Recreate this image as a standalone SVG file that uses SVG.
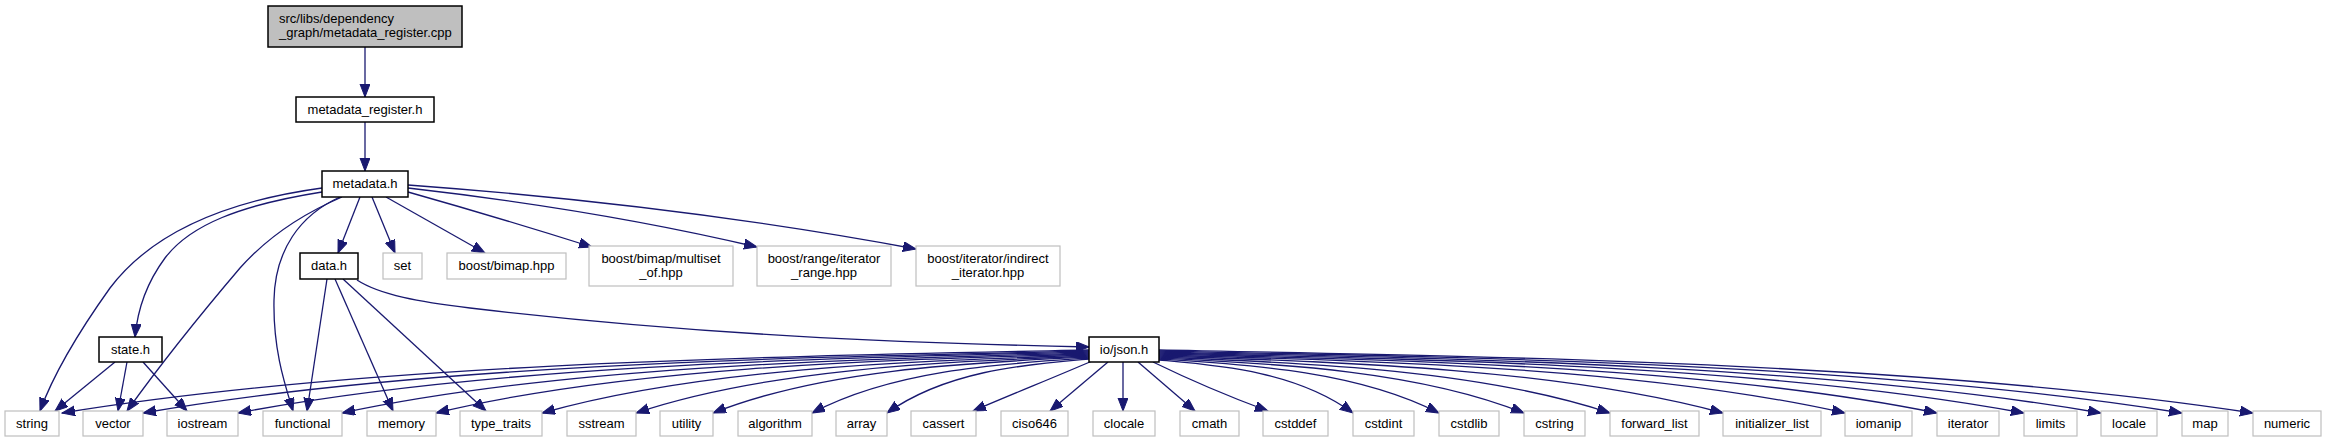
<svg xmlns="http://www.w3.org/2000/svg" width="2325" height="443" viewBox="0 0 2325 443">
<style>
text{font-family:"Liberation Sans",Arial,sans-serif;font-size:13px;fill:#000;text-anchor:middle}
.n rect{fill:#fff;stroke:#000;stroke-width:1.5}
.g rect{fill:#fff;stroke:#bfbfbf;stroke-width:1.2}
.r rect{fill:#bfbfbf;stroke:#000;stroke-width:1.5}
#edges path{fill:none;stroke:#191970;stroke-width:1.3;marker-end:url(#ah)}
</style>
<defs>
<marker id="ah" markerUnits="userSpaceOnUse" markerWidth="14" markerHeight="11" refX="13" refY="5" orient="auto" viewBox="0 0 14 11">
<path d="M0,0 L13,5 L0,10 z" fill="#191970" stroke="#191970" stroke-width="1"/>
</marker>
</defs>
<rect width="2325" height="443" fill="#fff"/>
<g id="edges">
<path d="M365,47 L365,97"/>
<path d="M365,122 L365,171"/>
<path d="M322,188 C220,202 150,235 110,288 C80,330 55,370 40,411"/>
<path d="M322,192 C240,205 190,225 165,258 C145,285 137,315 135,337"/>
<path d="M342,197 C300,215 265,240 240,268 C200,315 160,365 127,411"/>
<path d="M340,197 C300,215 275,250 274,300 C273,350 285,385 293,411"/>
<path d="M360,197 L338,253"/>
<path d="M372,197 L395,253"/>
<path d="M386,197 L485,253"/>
<path d="M408,192 Q500,218 592,247"/>
<path d="M408,188 Q600,210 757,247"/>
<path d="M408,185 Q680,205 916,249"/>
<path d="M327,279 L307,411"/>
<path d="M335,279 L393,411"/>
<path d="M343,279 L486,411"/>
<path d="M357,280 C380,295 420,302 470,308 C700,335 900,343 1089,347"/>
<path d="M115,362 L55,411"/>
<path d="M127,362 L118,411"/>
<path d="M143,362 L187,411"/>
<path d="M1089,350 C781,356.3 370,362.6 62,413"/>
<path d="M1089,351 C805,357.2 427,363.4 143,413"/>
<path d="M1089,352 C834,358.1 493,364.2 238,413"/>
<path d="M1089,353 C865,359 566,365 342,413"/>
<path d="M1089,354 C893,359.9 632,365.8 436,413"/>
<path d="M1089,355 C925,360.8 706,366.6 542,413"/>
<path d="M1089,356 C953,361.7 772,367.4 636,413"/>
<path d="M1089,357 C976,362.6 826,368.2 713,413"/>
<path d="M1089,358 C1006,363.5 895,369 812,413"/>
<path d="M1089,359 C1028,364.4 948,369.8 887,413"/>
<path d="M1092,361 C1060,375 1010,395 973,411"/>
<path d="M1108,362 L1050,411"/>
<path d="M1123,362 L1123,411"/>
<path d="M1138,362 L1195,411"/>
<path d="M1153,362 C1190,380 1230,397 1268,411"/>
<path d="M1159,360 C1217,365.3 1295,370.6 1353,413"/>
<path d="M1159,359 C1243,364.4 1355,369.8 1439,413"/>
<path d="M1159,358 C1269,363.5 1414,369 1524,413"/>
<path d="M1159,357 C1294,362.6 1475,368.2 1610,413"/>
<path d="M1159,356 C1328,361.7 1554,367.4 1723,413"/>
<path d="M1159,355 C1365,360.8 1639,366.6 1845,413"/>
<path d="M1159,354 C1392,359.9 1704,365.8 1937,413"/>
<path d="M1159,353 C1419,359 1765,365 2024,413"/>
<path d="M1159,352 C1442,358.1 1818,364.2 2101,413"/>
<path d="M1159,351 C1466,357.2 1875,363.4 2182,413"/>
<path d="M1159,350 C1487,356.3 1925,362.6 2253,413"/>
</g>
<g id="node_root" class="r"><rect x="268" y="6" width="194" height="41"/><text x="279" y="23" style="text-anchor:start">src/libs/dependency</text><text x="279" y="37" style="text-anchor:start">_graph/metadata_register.cpp</text></g>
<g id="node_metadata_register" class="n"><rect x="296" y="97" width="138" height="25"/><text x="365" y="114">metadata_register.h</text></g>
<g id="node_metadata" class="n"><rect x="322" y="171" width="86" height="26"/><text x="365" y="188">metadata.h</text></g>
<g id="node_data" class="n"><rect x="300" y="253" width="58" height="26"/><text x="329" y="270">data.h</text></g>
<g id="node_set" class="g"><rect x="383" y="253" width="39" height="26"/><text x="402.5" y="270">set</text></g>
<g id="node_bimap" class="g"><rect x="447" y="253" width="119" height="26"/><text x="506.5" y="270">boost/bimap.hpp</text></g>
<g id="node_multiset" class="g"><rect x="589" y="246" width="144" height="40"/><text x="661" y="263">boost/bimap/multiset</text><text x="661" y="277">_of.hpp</text></g>
<g id="node_range" class="g"><rect x="757" y="246" width="134" height="40"/><text x="824" y="263">boost/range/iterator</text><text x="824" y="277">_range.hpp</text></g>
<g id="node_indirect" class="g"><rect x="916" y="246" width="144" height="40"/><text x="988" y="263">boost/iterator/indirect</text><text x="988" y="277">_iterator.hpp</text></g>
<g id="node_state" class="n"><rect x="99" y="337" width="63" height="25"/><text x="130.5" y="354">state.h</text></g>
<g id="node_json" class="n"><rect x="1089" y="337" width="70" height="25"/><text x="1124" y="354">io/json.h</text></g>
<g id="node_string" class="g"><rect x="5" y="411" width="54" height="25"/><text x="32" y="428">string</text></g>
<g id="node_vector" class="g"><rect x="83" y="411" width="60" height="25"/><text x="113" y="428">vector</text></g>
<g id="node_iostream" class="g"><rect x="167" y="411" width="71" height="25"/><text x="202.5" y="428">iostream</text></g>
<g id="node_functional" class="g"><rect x="263" y="411" width="79" height="25"/><text x="302.5" y="428">functional</text></g>
<g id="node_memory" class="g"><rect x="367" y="411" width="69" height="25"/><text x="401.5" y="428">memory</text></g>
<g id="node_type_traits" class="g"><rect x="460" y="411" width="82" height="25"/><text x="501" y="428">type_traits</text></g>
<g id="node_sstream" class="g"><rect x="567" y="411" width="69" height="25"/><text x="601.5" y="428">sstream</text></g>
<g id="node_utility" class="g"><rect x="660" y="411" width="53" height="25"/><text x="686.5" y="428">utility</text></g>
<g id="node_algorithm" class="g"><rect x="738" y="411" width="74" height="25"/><text x="775" y="428">algorithm</text></g>
<g id="node_array" class="g"><rect x="836" y="411" width="51" height="25"/><text x="861.5" y="428">array</text></g>
<g id="node_cassert" class="g"><rect x="911" y="411" width="65" height="25"/><text x="943.5" y="428">cassert</text></g>
<g id="node_ciso646" class="g"><rect x="1001" y="411" width="67" height="25"/><text x="1034.5" y="428">ciso646</text></g>
<g id="node_clocale" class="g"><rect x="1093" y="411" width="62" height="25"/><text x="1124" y="428">clocale</text></g>
<g id="node_cmath" class="g"><rect x="1180" y="411" width="59" height="25"/><text x="1209.5" y="428">cmath</text></g>
<g id="node_cstddef" class="g"><rect x="1263" y="411" width="65" height="25"/><text x="1295.5" y="428">cstddef</text></g>
<g id="node_cstdint" class="g"><rect x="1353" y="411" width="61" height="25"/><text x="1383.5" y="428">cstdint</text></g>
<g id="node_cstdlib" class="g"><rect x="1439" y="411" width="60" height="25"/><text x="1469" y="428">cstdlib</text></g>
<g id="node_cstring" class="g"><rect x="1524" y="411" width="61" height="25"/><text x="1554.5" y="428">cstring</text></g>
<g id="node_forward_list" class="g"><rect x="1610" y="411" width="89" height="25"/><text x="1654.5" y="428">forward_list</text></g>
<g id="node_initializer_list" class="g"><rect x="1723" y="411" width="98" height="25"/><text x="1772" y="428">initializer_list</text></g>
<g id="node_iomanip" class="g"><rect x="1845" y="411" width="67" height="25"/><text x="1878.5" y="428">iomanip</text></g>
<g id="node_iterator" class="g"><rect x="1937" y="411" width="62" height="25"/><text x="1968" y="428">iterator</text></g>
<g id="node_limits" class="g"><rect x="2024" y="411" width="53" height="25"/><text x="2050.5" y="428">limits</text></g>
<g id="node_locale" class="g"><rect x="2101" y="411" width="56" height="25"/><text x="2129" y="428">locale</text></g>
<g id="node_map" class="g"><rect x="2182" y="411" width="46" height="25"/><text x="2205" y="428">map</text></g>
<g id="node_numeric" class="g"><rect x="2253" y="411" width="68" height="25"/><text x="2287" y="428">numeric</text></g>
</svg>
